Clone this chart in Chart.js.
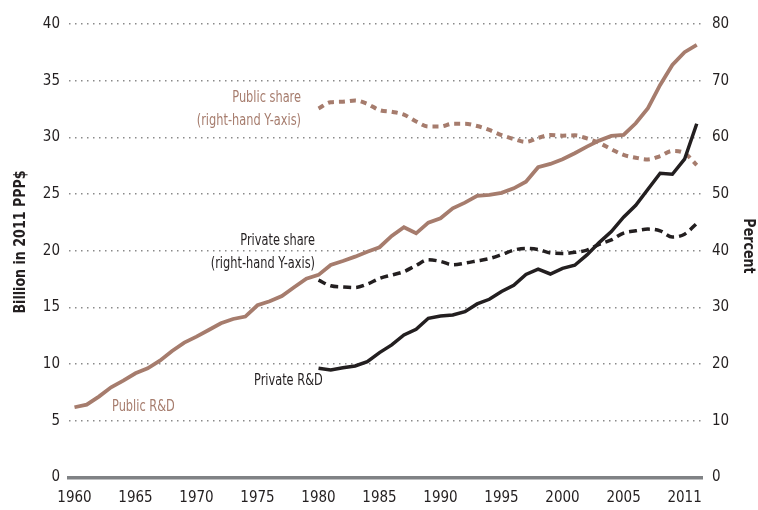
<!DOCTYPE html>
<html lang="en">
  <head>
    <meta charset="UTF-8" />
    <title>Public and private R&amp;D</title>
    <script src="https://cdn.jsdelivr.net/npm/chart.js"></script>
    <style>
      body {
        margin: 0;
        padding: 0;
        background: #fff;
      }
      .wrap {
        width: 758px;
        height: 510px;
      }
    </style>
  </head>
  <body>
    <div class="wrap">
      <canvas id="rdChart" width="758" height="510"></canvas>
    </div>

    <script>
      const years = [
        1960, 1961, 1962, 1963, 1964, 1965, 1966, 1967, 1968, 1969,
        1970, 1971, 1972, 1973, 1974, 1975, 1976, 1977, 1978, 1979,
        1980, 1981, 1982, 1983, 1984, 1985, 1986, 1987, 1988, 1989,
        1990, 1991, 1992, 1993, 1994, 1995, 1996, 1997, 1998, 1999,
        2000, 2001, 2002, 2003, 2004, 2005, 2006, 2007, 2008, 2009,
        2010, 2011,
      ];
      const tickYears = [1960, 1965, 1970, 1975, 1980, 1985, 1990, 1995, 2000, 2005, 2010];
      const tickLabels = ["1960", "1965", "1970", "1975", "1980", "1985", "1990", "1995", "2000", "2005", "2011"];

      // billion 2011 PPP$, 1960-2011
      const publicRD = [
        6.18, 6.41, 7.12, 7.94, 8.53, 9.18, 9.62, 10.29, 11.15, 11.88,
        12.41, 13.0, 13.59, 13.97, 14.18, 15.18, 15.53, 16.0, 16.77, 17.53,
        17.86, 18.74, 19.09, 19.47, 19.91, 20.3, 21.3, 22.07, 21.53, 22.47,
        22.86, 23.74, 24.24, 24.83, 24.92, 25.1, 25.5, 26.09, 27.36, 27.65,
        28.07, 28.6, 29.18, 29.71, 30.12, 30.21, 31.24, 32.57, 34.62, 36.39,
        37.51, 38.15,
      ];
      // 1980-2011
      const privateRD = [
        9.62, 9.47, 9.67, 9.82, 10.2, 11.0, 11.68, 12.56, 13.06, 14.03,
        14.24, 14.33, 14.62, 15.3, 15.71, 16.4, 16.95, 17.9, 18.36, 17.94,
        18.44, 18.71, 19.62, 20.71, 21.68, 22.95, 24.0, 25.42, 26.83, 26.74,
        28.07, 31.2,
      ];
      // percent, 1980-2011
      const publicShare = [
        65.1, 66.2, 66.3, 66.5, 65.9, 64.8, 64.5, 64.0, 62.8, 61.9,
        61.9, 62.4, 62.4, 62.0, 61.3, 60.4, 59.7, 59.2, 59.9, 60.4,
        60.3, 60.35, 59.8, 59.0, 57.9, 56.9, 56.4, 56.1, 56.7, 57.6,
        57.2, 55.1,
      ];
      const privateShare = [
        34.8, 33.8, 33.6, 33.5, 34.1, 35.1, 35.7, 36.3, 37.4, 38.4,
        38.1, 37.5, 37.8, 38.2, 38.6, 39.3, 40.1, 40.4, 40.2, 39.6,
        39.5, 39.7, 40.1, 41.1, 41.9, 43.1, 43.5, 43.8, 43.5, 42.4,
        42.9, 44.8,
      ];

      const brown = "#a67c6d";
      const ink = "#231f20";
      const narrow = "'DejaVu Sans Condensed', 'DejaVu Sans', sans-serif";

      function points(xs, ys) {
        return ys.map((v, i) => ({ x: xs[i], y: v }));
      }
      const laterYears = years.slice(20);

      // squeeze text sideways so it reads like a condensed face
      function narrowText(ctx, text, x, y, align, sx) {
        ctx.save();
        ctx.translate(x, y);
        ctx.scale(sx, 1);
        ctx.textAlign = align;
        ctx.fillText(text, 0, 0);
        ctx.restore();
      }

      // series labels and axis titles written on the plot
      const labelPlugin = {
        id: "seriesLabels",
        afterDraw(chart) {
          const ctx = chart.ctx;
          ctx.save();
          ctx.font = "16px " + narrow;
          ctx.textBaseline = "middle";
          ctx.fillStyle = brown;
          narrowText(ctx, "Public share", 301, 98, "right", 0.79);
          narrowText(ctx, "(right-hand Y-axis)", 301, 121, "right", 0.79);
          ctx.fillStyle = ink;
          narrowText(ctx, "Private share", 315, 241, "right", 0.79);
          narrowText(ctx, "(right-hand Y-axis)", 315, 264, "right", 0.79);
          narrowText(ctx, "Private R&D", 254, 381, "left", 0.79);
          ctx.fillStyle = brown;
          narrowText(ctx, "Public R&D", 112, 407, "left", 0.79);

          ctx.fillStyle = ink;
          ctx.font = "bold 16px " + narrow;
          ctx.textAlign = "center";
          ctx.save();
          ctx.translate(21, 242);
          ctx.rotate(-Math.PI / 2);
          ctx.scale(0.88, 1);
          ctx.fillText("Billion in 2011 PPP$", 0, 0);
          ctx.restore();
          ctx.save();
          ctx.translate(748, 246);
          ctx.rotate(Math.PI / 2);
          ctx.scale(0.88, 1);
          ctx.fillText("Percent", 0, 0);
          ctx.restore();
          ctx.restore();
        },
      };

      const ctx = document.getElementById("rdChart").getContext("2d");
      new Chart(ctx, {
        type: "line",
        data: {
          datasets: [
            {
              label: "Public R&D",
              data: points(years, publicRD),
              yAxisID: "y",
              borderColor: brown,
              borderWidth: 3.8,
              tension: 0,
            },
            {
              label: "Private R&D",
              data: points(laterYears, privateRD),
              yAxisID: "y",
              borderColor: ink,
              borderWidth: 3.5,
              tension: 0,
            },
            {
              label: "Public share",
              data: points(laterYears, publicShare),
              yAxisID: "y2",
              borderColor: brown,
              borderWidth: 4,
              borderDash: [6, 5],
              cubicInterpolationMode: "monotone",
            },
            {
              label: "Private share",
              data: points(laterYears, privateShare),
              yAxisID: "y2",
              borderColor: ink,
              borderWidth: 3.5,
              borderDash: [8, 5],
              cubicInterpolationMode: "monotone",
            },
          ],
        },
        options: {
          responsive: false,
          animation: false,
          layout: { padding: { top: 24, left: 0, right: 0, bottom: 0 } },
          elements: { point: { radius: 0 } },
          plugins: { legend: { display: false }, tooltip: { enabled: false } },
          scales: {
            x: {
              type: "linear",
              min: 1959.55,
              max: 2011.43,
              afterBuildTicks: (scale) => {
                scale.ticks = tickYears.map((v) => ({ value: v }));
              },
              afterFit: (scale) => {
                scale.height = 32.7;
              },
              grid: { display: false, drawTicks: false },
              border: { display: true, color: "#808285", width: 3.5 },
              ticks: {
                padding: 12,
                color: ink,
                font: { family: narrow, size: 15 },
                callback: (v, i) => tickLabels[i],
              },
            },
            y: {
              position: "left",
              min: 0,
              max: 40,
              afterBuildTicks: (scale) => {
                scale.ticks = [0, 5, 10, 15, 20, 25, 30, 35, 40].map((v) => ({ value: v }));
              },
              afterFit: (scale) => {
                scale.width = 69;
              },
              grid: {
                color: "#8a8a8a",
                lineWidth: 1.5,
                drawTicks: false,
              },
              border: { display: false, dash: [1.5, 4.5] },
              ticks: {
                padding: 9,
                color: ink,
                font: { family: narrow, size: 15 },
              },
            },
            y2: {
              position: "right",
              min: 0,
              max: 80,
              afterBuildTicks: (scale) => {
                scale.ticks = [0, 10, 20, 30, 40, 50, 60, 70, 80].map((v) => ({ value: v }));
              },
              afterFit: (scale) => {
                scale.width = 56;
              },
              grid: { display: false, drawTicks: false },
              border: { display: false },
              ticks: {
                padding: 10,
                color: ink,
                font: { family: narrow, size: 15 },
              },
            },
          },
        },
        plugins: [labelPlugin],
      });
    </script>
  </body>
</html>
